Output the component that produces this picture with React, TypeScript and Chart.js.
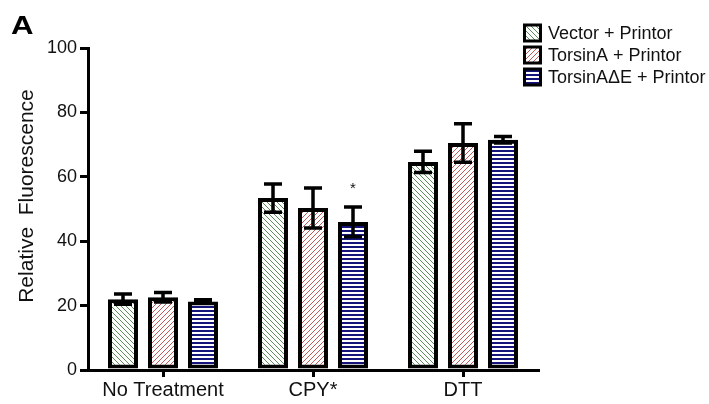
import React, { useEffect, useRef } from "react";
import { Chart, registerables } from "chart.js";

Chart.register(...registerables);

// ---- data ----
const categories = ["No Treatment", "CPY*", "DTT"];
const seriesNames = ["Vector + Printor", "TorsinA + Printor", "TorsinA\u0394E + Printor"];
const vectorValues = [22, 53.4, 64.6];
const vectorErrors = [1.6, 4.4, 3.3];
const torsinValues = [22.6, 50.3, 70.5];
const torsinErrors = [1.5, 6.2, 6];
const deltaValues = [21.3, 46, 71.5];
const deltaErrors = [0.5, 4.6, 1];
const deltaSignificance = ["", "*", ""];
const yMin = 0;
const yMax = 100;
const yStep = 20;
const yTitle = "Relative  Fluorescence";
const panelLabel = "A";

const FONT = '"Liberation Sans", Arial, Helvetica, sans-serif';

function makePattern(kind: string): CanvasPattern | string {
  const c = document.createElement("canvas");
  const ctx = c.getContext("2d");
  if (!ctx) return "#fff";
  if (kind === "blue") {
    c.width = 4;
    c.height = 4;
    ctx.fillStyle = "#14147a";
    ctx.fillRect(0, 0, 4, 4);
    ctx.fillStyle = "#ffffff";
    ctx.fillRect(0, 0, 4, 2);
  } else {
    const s = 5;
    c.width = s;
    c.height = s;
    ctx.fillStyle = "#ffffff";
    ctx.fillRect(0, 0, s, s);
    ctx.strokeStyle = kind === "green" ? "#5c8c5c" : "#c05858";
    ctx.lineWidth = 1;
    ctx.beginPath();
    if (kind === "green") {
      ctx.moveTo(-1, -1);
      ctx.lineTo(s + 1, s + 1);
      ctx.moveTo(s - 1, -1);
      ctx.lineTo(s + 1, 1);
      ctx.moveTo(-1, s - 1);
      ctx.lineTo(1, s + 1);
    } else {
      ctx.moveTo(-1, s + 1);
      ctx.lineTo(s + 1, -1);
      ctx.moveTo(-1, 1);
      ctx.lineTo(1, -1);
      ctx.moveTo(s - 1, s + 1);
      ctx.lineTo(s + 1, s - 1);
    }
    ctx.stroke();
  }
  const p = ctx.createPattern(c, "repeat");
  return p || "#fff";
}

export default function App() {
  const ref = useRef<HTMLCanvasElement | null>(null);

  useEffect(() => {
    document.body.style.margin = "0";
    const canvas = ref.current;
    if (!canvas) return;

    const fills = [makePattern("green"), makePattern("red"), makePattern("blue")];
    const values = [vectorValues, torsinValues, deltaValues];
    const errors = [vectorErrors, torsinErrors, deltaErrors];
    const signif = [["", "", ""], ["", "", ""], deltaSignificance];

    const overlay = {
      id: "overlay",
      afterDatasetsDraw(chart: any) {
        const ctx = chart.ctx;
        const y = chart.scales.y;
        ctx.save();
        ctx.strokeStyle = "#000";
        ctx.lineWidth = 3.5;
        ctx.lineCap = "butt";
        chart.data.datasets.forEach((_ds: any, i: number) => {
          const meta = chart.getDatasetMeta(i);
          meta.data.forEach((bar: any, j: number) => {
            const v = values[i][j];
            const e = errors[i][j];
            const top = y.getPixelForValue(v + e);
            const bot = y.getPixelForValue(v - e);
            const x = bar.x;
            ctx.beginPath();
            ctx.moveTo(x, top);
            ctx.lineTo(x, bot);
            ctx.moveTo(x - 9, top);
            ctx.lineTo(x + 9, top);
            ctx.moveTo(x - 9, bot);
            ctx.lineTo(x + 9, bot);
            ctx.stroke();
            const s = signif[i][j];
            if (s) {
              ctx.fillStyle = "#111";
              ctx.font = `15px ${FONT}`;
              ctx.textAlign = "center";
              ctx.textBaseline = "alphabetic";
              ctx.fillText(s, x, top - 14);
            }
          });
        });
        ctx.restore();
      },
      afterDraw(chart: any) {
        const ctx = chart.ctx;
        ctx.save();
        // panel label
        ctx.fillStyle = "#000";
        ctx.font = `bold 26px ${FONT}`;
        ctx.textAlign = "left";
        ctx.textBaseline = "alphabetic";
        ctx.save();
        ctx.translate(11, 34);
        ctx.scale(1.2, 1);
        ctx.fillText(panelLabel, 0, 0);
        ctx.restore();
        // y title
        ctx.save();
        ctx.translate(27, 196);
        ctx.rotate(-Math.PI / 2);
        ctx.font = `21px ${FONT}`;
        ctx.fillStyle = "#111";
        ctx.textAlign = "center";
        ctx.textBaseline = "middle";
        ctx.fillText(yTitle, 0, 0);
        ctx.restore();
        // legend
        seriesNames.forEach((name, i) => {
          const yc = 33 + 22 * i;
          ctx.fillStyle = fills[i];
          ctx.fillRect(524, yc - 8.5, 17, 17);
          ctx.strokeStyle = "#000";
          ctx.lineWidth = 3;
          ctx.strokeRect(524.5, yc - 8, 16, 16);
          ctx.fillStyle = "#111";
          ctx.font = `18px ${FONT}`;
          ctx.textAlign = "left";
          ctx.textBaseline = "middle";
          ctx.fillText(name, 548, yc + 1);
        });
        ctx.restore();
      },
    };

    const chart = new Chart(canvas, {
      type: "bar",
      data: {
        labels: categories,
        datasets: seriesNames.map((name, i) => ({
          label: name,
          data: values[i],
          backgroundColor: fills[i] as any,
          borderColor: "#000",
          borderWidth: 4,
          borderSkipped: false,
          barPercentage: 0.75,
          categoryPercentage: 0.8,
        })),
      },
      options: {
        animation: false,
        responsive: false,
        maintainAspectRatio: false,
        events: [],
        layout: { padding: { top: 48, right: 171, left: 0, bottom: 0 } },
        plugins: {
          legend: { display: false },
          tooltip: { enabled: false },
          title: { display: false },
        },
        scales: {
          x: {
            afterFit(scale: any) {
              scale.height = 34;
            },
            grid: {
              display: true,
              drawOnChartArea: false,
              drawTicks: true,
              tickLength: 7,
              offset: false,
              color: "#000",
              lineWidth: 3,
            },
            border: { display: true, color: "#000", width: 3 },
            ticks: {
              color: "#111",
              font: { family: FONT, size: 20 },
              padding: 1,
              maxRotation: 0,
            },
          },
          y: {
            min: yMin,
            max: yMax,
            afterFit(scale: any) {
              scale.width = 88;
            },
            grid: {
              display: true,
              drawOnChartArea: false,
              drawTicks: true,
              tickLength: 8,
              color: "#000",
              lineWidth: 3,
            },
            border: { display: true, color: "#000", width: 3 },
            ticks: {
              stepSize: yStep,
              color: "#111",
              font: { family: FONT, size: 18 },
              padding: 3,
            },
          },
        },
      },
      plugins: [overlay],
    });

    return () => {
      chart.destroy();
    };
  }, []);

  return (
    <div style={{ width: 709, height: 404, position: "relative", background: "#fff" }}>
      <canvas ref={ref} width={709} height={404} style={{ width: 709, height: 404, display: "block" }} />
    </div>
  );
}
